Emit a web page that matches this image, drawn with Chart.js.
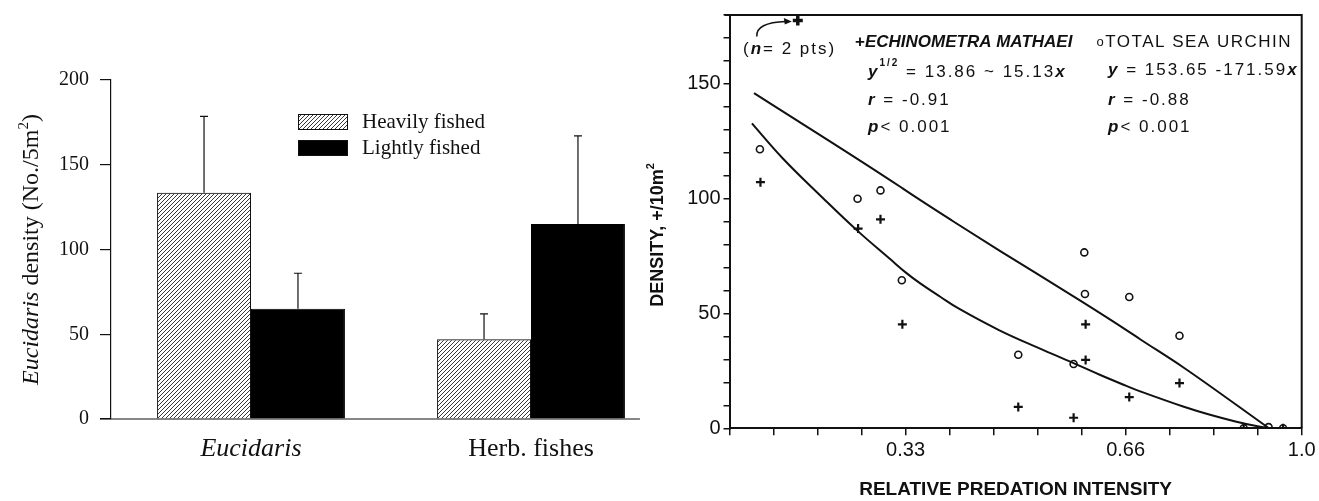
<!DOCTYPE html>
<html>
<head>
<meta charset="utf-8">
<script src="https://cdn.jsdelivr.net/npm/chart.js@4.4.1/dist/chart.umd.min.js"></script>
<style>
  html, body { margin: 0; padding: 0; background: #fff; }
  #wrap { position: relative; width: 1319px; height: 501px; overflow: hidden; }
  #leftBox { position: absolute; left: 0; top: 0; width: 690px; height: 501px; }
  #rightBox { position: absolute; left: 630px; top: 0; width: 689px; height: 501px; }
</style>
</head>
<body>
<div id="wrap">
  <div id="leftBox"><canvas id="left"></canvas></div>
  <div id="rightBox"><canvas id="right"></canvas></div>
</div>
<script>
// ---- left panel: bar chart ----
const groups = ['Eucidaris', 'Herb. fishes'];
const heavyMeans = [133.5, 47];
const heavySE = [45, 15];
const lightMeans = [65, 115];
const lightSE = [21, 52];
const leftTicks = [0, 50, 100, 150, 200];

// ---- right panel: scatter + fitted curves ----
// printed x axis has 14 evenly spaced tick marks, labelled unevenly
const xTickValues = [0, 0.0825, 0.165, 0.2475, 0.33, 0.396, 0.462, 0.528, 0.594, 0.66, 0.745, 0.83, 0.915, 1.0];
const xTickLabels = ['', '', '', '', '0.33', '', '', '', '', '0.66', '', '', '', '1.0'];
const urchinX = [0.057, 0.240, 0.283, 0.323, 0.499, 0.582, 0.598, 0.599, 0.667, 0.764, 0.888, 0.936, 0.964];
const urchinY = [121.5, 100, 103.6, 64.5, 32, 28, 76.6, 58.5, 57.2, 40.3, 0, 0.5, 0];
const echinoX = [0.058, 0.241, 0.283, 0.324, 0.499, 0.582, 0.600, 0.600, 0.667, 0.764, 0.888, 0.964];
const echinoY = [107.2, 87, 91, 45.3, 9.3, 4.6, 45.3, 29.8, 13.6, 19.7, 0, 0];
const offscaleX = [0.128];
const offscaleY = [177.6];
const urchinFitX = [0.046, 0.320, 0.33, 0.400, 0.472, 0.592, 0.66, 0.688, 0.771, 0.935];
const urchinFitY = [146, 105.2, 103.6, 90.4, 77.2, 55.6, 43.0, 38.8, 26.6, 0.3];
const echinoFitX = [0.042, 0.100, 0.175, 0.239, 0.301, 0.33, 0.352, 0.382, 0.410, 0.470, 0.530, 0.581, 0.622, 0.66, 0.688, 0.771, 0.823, 0.872, 0.910, 0.935];
const echinoFitY = [132.8, 117.5, 100.3, 86.2, 73.7, 67.9, 63.1, 57.3, 52.1, 42.8, 34.9, 28.5, 23.2, 18.6, 16.1, 9.5, 5.9, 3.0, 1.1, 0.1];

const SERIF = "'Liberation Serif', 'Times New Roman', serif";
const SANS = "'Liberation Sans', Arial, sans-serif";
const INK = '#111';

function pts(xs, ys) { return xs.map((x, i) => ({ x: x, y: ys[i] })); }

function hatchPattern() {
  const c = document.createElement('canvas');
  c.width = 4; c.height = 4;
  const g = c.getContext('2d');
  g.strokeStyle = '#222';
  g.lineWidth = 0.9;
  g.beginPath();
  g.moveTo(0, 4); g.lineTo(4, 0);
  g.moveTo(-1, 1); g.lineTo(1, -1);
  g.moveTo(3, 5); g.lineTo(5, 3);
  g.stroke();
  return g.createPattern(c, 'repeat');
}

function drawRuns(ctx, x, y, runs, spacing) {
  ctx.textBaseline = 'middle';
  ctx.textAlign = 'left';
  let cx = x;
  runs.forEach(r => {
    ctx.font = r[1];
    ctx.letterSpacing = spacing + 'px';
    ctx.fillText(r[0], cx, y + (r[2] || 0));
    cx += ctx.measureText(r[0]).width;
  });
  ctx.letterSpacing = '0px';
  return cx - x;
}

function runsWidth(ctx, runs, spacing) {
  let w = 0;
  runs.forEach(r => { ctx.font = r[1]; ctx.letterSpacing = spacing + 'px'; w += ctx.measureText(r[0]).width; });
  ctx.letterSpacing = '0px';
  return w;
}

const leftDecor = {
  id: 'leftDecor',
  afterDatasetsDraw(chart) {
    const { ctx, chartArea, scales: { y } } = chart;
    ctx.save();
    ctx.strokeStyle = INK;
    ctx.lineWidth = 1.2;
    // error bars (upper only)
    chart.data.datasets.forEach((ds, i) => {
      chart.getDatasetMeta(i).data.forEach((bar, j) => {
        const top = y.getPixelForValue(ds.data[j] + ds.se[j]);
        ctx.beginPath();
        ctx.moveTo(bar.x, bar.y); ctx.lineTo(bar.x, top);
        ctx.moveTo(bar.x - 4, top); ctx.lineTo(bar.x + 4, top);
        ctx.stroke();
      });
    });
    // baseline
    const last = chart.getDatasetMeta(1).data;
    const lb = last[last.length - 1];
    ctx.beginPath();
    ctx.moveTo(chartArea.left - 11, chartArea.bottom);
    ctx.lineTo(lb.x + lb.width / 2 + 15, chartArea.bottom);
    ctx.stroke();
    // legend
    chart.data.datasets.forEach((ds, i) => {
      const bx = chartArea.left + 187, by = chartArea.top + 34 + i * 26;
      ctx.fillStyle = ds.backgroundColor;
      ctx.fillRect(bx, by, 50, 16);
      ctx.lineWidth = 1;
      ctx.strokeRect(bx + 0.5, by + 0.5, 49, 15);
      ctx.fillStyle = INK;
      ctx.font = '21px ' + SERIF;
      ctx.textBaseline = 'middle';
      ctx.fillText(ds.label, bx + 64, by + 8);
    });
    // y title with italic genus
    const runs = [['Eucidaris', 'italic 24px ' + SERIF], [' density (No./5m', '24px ' + SERIF], ['2', '15px ' + SERIF, -8], [')', '24px ' + SERIF]];
    const w = runsWidth(ctx, runs, 0);
    ctx.translate(32, (chartArea.top + chartArea.bottom) / 2);
    ctx.rotate(-Math.PI / 2);
    ctx.fillStyle = INK;
    drawRuns(ctx, -w / 2, 0, runs, 0);
    ctx.restore();
  }
};

new Chart(document.getElementById('left'), {
  type: 'bar',
  data: {
    labels: groups,
    datasets: [
      { label: 'Heavily fished', data: heavyMeans, se: heavySE, backgroundColor: hatchPattern(), borderColor: INK, borderWidth: 1 },
      { label: 'Lightly fished', data: lightMeans, se: lightSE, backgroundColor: '#000', borderColor: '#000', borderWidth: 1 }
    ]
  },
  options: {
    responsive: true,
    maintainAspectRatio: false,
    animation: false,
    layout: { padding: { top: 80, right: 19, left: 0, bottom: 0 } },
    datasets: { bar: { categoryPercentage: 0.671, barPercentage: 1 } },
    plugins: { legend: { display: false }, tooltip: { enabled: false } },
    scales: {
      x: {
        grid: { display: false },
        border: { display: false },
        ticks: {
          padding: 7,
          color: INK,
          font: c => ({ family: SERIF, size: 26, style: c.index === 0 ? 'italic' : 'normal' })
        },
        afterFit: s => { s.height = 82; }
      },
      y: {
        min: 0, max: 200,
        afterBuildTicks: s => { s.ticks = leftTicks.map(v => ({ value: v })); },
        grid: { drawOnChartArea: false, tickLength: 11, color: INK, lineWidth: 1.2 },
        border: { color: INK, width: 1.2 },
        ticks: { padding: 11, color: INK, font: { family: SERIF, size: 20 } },
        afterFit: s => { s.width = 111; }
      }
    }
  },
  plugins: [leftDecor]
});

// ---- custom scale: equally spaced printed ticks, piecewise-linear values ----
function valueToDecimal(v) {
  const n = xTickValues.length - 1;
  for (let i = 0; i < n; i++) {
    const a = xTickValues[i], b = xTickValues[i + 1];
    if (v <= b || i === n - 1) return (i + (v - a) / (b - a)) / n;
  }
  return 1;
}
function decimalToValue(d) {
  const n = xTickValues.length - 1;
  const t = Math.max(0, Math.min(n, d * n));
  const i = Math.min(n - 1, Math.floor(t));
  return xTickValues[i] + (t - i) * (xTickValues[i + 1] - xTickValues[i]);
}
class PrintedAxisScale extends Chart.LinearScale {
  buildTicks() { return xTickValues.map(v => ({ value: v })); }
  getPixelForValue(v) { return this.getPixelForDecimal(valueToDecimal(v)); }
  getValueForPixel(p) { return decimalToValue(this.getDecimalForPixel(p)); }
}
PrintedAxisScale.id = 'printed';
PrintedAxisScale.defaults = Chart.LinearScale.defaults;
Chart.register(PrintedAxisScale);

const rightDecor = {
  id: 'rightDecor',
  afterDatasetsDraw(chart) {
    const { ctx, chartArea } = chart;
    const L = chartArea.left, T = chartArea.top;
    ctx.save();
    ctx.strokeStyle = INK;
    ctx.fillStyle = INK;
    ctx.lineWidth = 2;
    ctx.beginPath();
    ctx.moveTo(L - 5, T); ctx.lineTo(chartArea.right, T); ctx.lineTo(chartArea.right, chartArea.bottom);
    ctx.stroke();

    const R = '17px ' + SANS, B = 'bold 17px ' + SANS, BI = 'italic bold 17px ' + SANS;
    drawRuns(ctx, L + 13.5, T + 34, [['(', R], ['n', BI], ['= 2 pts)', R]], 2);
    drawRuns(ctx, L + 125.5, T + 27.3, [['+', B], ['ECHINOMETRA MATHAEI', BI]], 0);
    drawRuns(ctx, L + 367, T + 27.3, [['o', '13px ' + SANS], ['TOTAL SEA URCHIN', R]], 1.5);
    drawRuns(ctx, L + 138.5, T + 57, [['y', BI], ['1/2', 'bold 10px ' + SANS, -9], [' = 13.86 ~ 15.13', R], ['x', BI]], 2);
    drawRuns(ctx, L + 378.5, T + 55.6, [['y', BI], [' = 153.65 -171.59', R], ['x', BI]], 2);
    drawRuns(ctx, L + 138.5, T + 85.6, [['r', BI], [' = -0.91', R]], 2);
    drawRuns(ctx, L + 378.5, T + 85.6, [['r', BI], [' = -0.88', R]], 2);
    drawRuns(ctx, L + 138.5, T + 112.3, [['p', BI], ['< 0.001', R]], 2);
    drawRuns(ctx, L + 378.5, T + 112.3, [['p', BI], ['< 0.001', R]], 2);

    // arrow to the off-scale point
    const p = chart.getDatasetMeta(4).data[0];
    const tipX = p.x - 8, tipY = p.y + 1;
    ctx.lineWidth = 1.5;
    ctx.beginPath();
    ctx.moveTo(p.x - 41, p.y + 16);
    ctx.quadraticCurveTo(p.x - 42, p.y + 2, tipX - 4, tipY);
    ctx.stroke();
    ctx.beginPath();
    ctx.moveTo(tipX + 2, tipY);
    ctx.lineTo(tipX - 6, tipY - 3.5);
    ctx.lineTo(tipX - 5, tipY + 3);
    ctx.closePath();
    ctx.fill();

    // y title
    const runs = [['DENSITY, ', 'bold 18px ' + SANS], ['+', 'bold 18px ' + SANS], ['/10m', 'bold 18px ' + SANS], ['2', 'bold 11px ' + SANS, -7]];
    const w = runsWidth(ctx, runs, 0);
    ctx.translate(28, 235);
    ctx.rotate(-Math.PI / 2);
    drawRuns(ctx, -w / 2, 0, runs, 0);
    ctx.restore();
  }
};

new Chart(document.getElementById('right'), {
  type: 'scatter',
  data: {
    datasets: [
      { data: pts(urchinFitX, urchinFitY), showLine: true, borderColor: INK, borderWidth: 2, pointRadius: 0, cubicInterpolationMode: 'monotone', fill: false },
      { data: pts(echinoFitX, echinoFitY), showLine: true, borderColor: INK, borderWidth: 2, pointRadius: 0, tension: 0.4, fill: false },
      { data: pts(urchinX, urchinY), pointStyle: 'circle', pointRadius: 3.5, borderColor: INK, pointBorderWidth: 1.6, backgroundColor: 'rgba(0,0,0,0)' },
      { data: pts(echinoX, echinoY), pointStyle: 'cross', pointRadius: 4.5, borderColor: INK, pointBorderWidth: 2.2 },
      { data: pts(offscaleX, offscaleY), pointStyle: 'cross', pointRadius: 5, borderColor: INK, pointBorderWidth: 3.5, clip: false }
    ]
  },
  options: {
    responsive: true,
    maintainAspectRatio: false,
    animation: false,
    layout: { padding: { top: 12.7, right: 17.3, left: 0, bottom: 0 } },
    plugins: { legend: { display: false }, tooltip: { enabled: false } },
    scales: {
      x: {
        type: 'printed',
        min: 0, max: 1,
        grid: { drawOnChartArea: false, tickLength: 7, color: INK, lineWidth: 1.5 },
        border: { color: INK, width: 2 },
        ticks: { autoSkip: false, maxRotation: 0, padding: 3, color: INK, font: { family: SANS, size: 20 }, callback: (v, i) => xTickLabels[i] },
        title: { display: true, text: 'RELATIVE PREDATION INTENSITY', color: INK, font: { family: SANS, size: 19, weight: 'bold' }, padding: 0 },
        afterFit: s => { s.height = 72.7; }
      },
      y: {
        min: 0, max: 180,
        grid: { drawOnChartArea: false, tickLength: 6, color: INK, lineWidth: 1.5 },
        border: { color: INK, width: 2 },
        ticks: { stepSize: 10, autoSkip: false, padding: 3, color: INK, font: { family: SANS, size: 20 }, callback: v => (v % 50 === 0 ? v : '') },
        afterFit: s => { s.width = 99.5; }
      }
    }
  },
  plugins: [rightDecor]
});
</script>
</body>
</html>
